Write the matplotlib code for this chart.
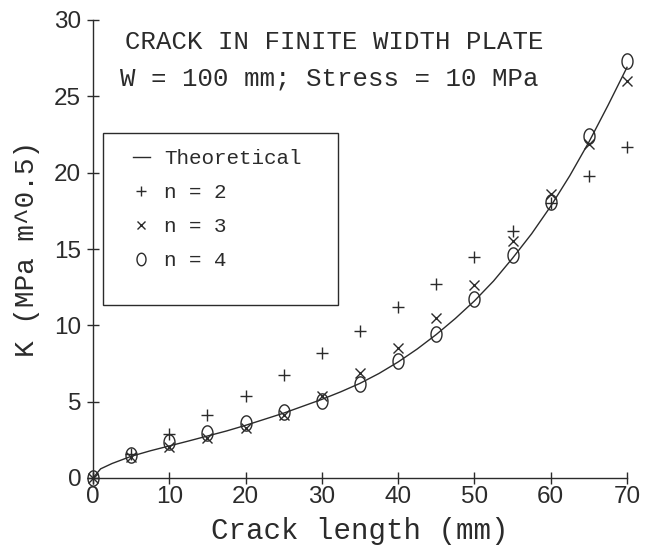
import matplotlib
matplotlib.use("Agg")
import matplotlib.pyplot as plt
from matplotlib.lines import Line2D
from matplotlib.patches import Rectangle
from matplotlib.path import Path
import numpy as np

# ---- data ----
crack_theory = [0, 1, 2.5, 5, 7.5, 10, 12.5, 15, 17.5, 20, 22.5, 25, 27.5, 30, 32.5, 35,
                37.5, 40, 42.5, 45, 47.5, 50, 52.5, 55, 57.5, 60, 62.5, 65, 67.5, 70]
k_theory = [0, 0.6, 0.95, 1.42, 1.78, 2.1, 2.42, 2.75, 3.08, 3.45, 3.85, 4.25, 4.7, 5.15,
            5.65, 6.2, 6.85, 7.6, 8.45, 9.4, 10.45, 11.6, 12.9, 14.4, 16.0, 17.8, 19.8,
            22.0, 24.4, 26.9]

crack_pts = [0, 5, 10, 15, 20, 25, 30, 35, 40, 45, 50, 55, 60, 65, 70]
k_n2 = [0, 1.55, 2.9, 4.15, 5.4, 6.75, 8.2, 9.6, 11.2, 12.7, 14.45, 16.2, 18.0, 19.8, 21.7]
k_n3 = [0, 1.35, 2.0, 2.6, 3.3, 4.15, 5.35, 6.85, 8.5, 10.5, 12.65, 15.5, 18.6, 21.9, 26.0]
k_n4 = [0, 1.5, 2.35, 2.95, 3.6, 4.3, 5.05, 6.15, 7.65, 9.45, 11.7, 14.6, 18.05, 22.4, 27.3]

x_ticks = [0, 10, 20, 30, 40, 50, 60, 70]
y_ticks = [0, 5, 10, 15, 20, 25, 30]

title1 = "CRACK IN FINITE WIDTH PLATE"
title2 = "W = 100 mm; Stress = 10 MPa"
xlabel = "Crack length (mm)"
ylabel = "K (MPa m^0.5)"
legend_labels = ["Theoretical", "n = 2", "n = 3", "n = 4"]

# ---- style ----
INK = "#2b2b2b"
MONO = "Liberation Mono"
SANS = "Liberation Sans"

t = np.linspace(0, 2 * np.pi, 40)
ellipse = Path(np.column_stack([0.36 * np.cos(t), 0.5 * np.sin(t)]), closed=True)

fig = plt.figure(figsize=(6.45, 5.54), dpi=100)
ax = fig.add_axes([93 / 645, 1 - 478 / 554, 534 / 645, 458 / 554])

ax.plot(crack_theory, k_theory, color=INK, lw=1.0, clip_on=False)
ax.plot(crack_pts, k_n2, ls="none", marker="+", ms=9, mew=1.0, color=INK, clip_on=False)
ax.plot(crack_pts, k_n3, ls="none", marker="x", ms=7, mew=1.0, color=INK, clip_on=False)
ax.plot(crack_pts, k_n4, ls="none", marker=ellipse, ms=11, mew=1.0, mfc="none",
        mec=INK, clip_on=False)

ax.set_xlim(0, 70)
ax.set_ylim(0, 30)
ax.set_xticks(x_ticks)
ax.set_yticks(y_ticks)
for s in ["top", "right"]:
    ax.spines[s].set_visible(False)
for s in ["left", "bottom"]:
    ax.spines[s].set_color(INK)
    ax.spines[s].set_linewidth(1.0)
ax.tick_params(direction="inout", length=9, width=1.0, color=INK, labelcolor=INK,
               labelsize=17.5)
ax.tick_params(axis="y", pad=4)
ax.tick_params(axis="x", pad=1)
for lab in ax.get_xticklabels() + ax.get_yticklabels():
    lab.set_family(SANS)

ax.set_xlabel(xlabel, family=MONO, fontsize=21, color=INK, labelpad=7)
ax.set_ylabel(ylabel, family=MONO, fontsize=20, color=INK, labelpad=10)

ax.text((125 - 93) / 534, (478 - 42) / 458, title1, transform=ax.transAxes,
        family=MONO, fontsize=18.5, color=INK, va="center", ha="left")
ax.text((120 - 93) / 534, (478 - 78) / 458, title2, transform=ax.transAxes,
        family=MONO, fontsize=18.5, color=INK, va="center", ha="left")

# legend box
ax.add_patch(Rectangle(((103 - 93) / 534, (478 - 305) / 458), 235 / 534, 172 / 458,
                       transform=ax.transAxes, fill=False, ec=INK, lw=1.0, clip_on=False))
handles = [
    Line2D([], [], color=INK, lw=1.0),
    Line2D([], [], ls="none", marker="+", ms=7, mew=1.0, color=INK),
    Line2D([], [], ls="none", marker="x", ms=6, mew=1.0, color=INK),
    Line2D([], [], ls="none", marker=ellipse, ms=9, mew=1.0, mfc="none", mec=INK),
]
leg = ax.legend(handles, legend_labels, loc="upper left",
                bbox_to_anchor=((133 - 93) / 534, (478 - 149) / 458),
                frameon=False, borderpad=0, borderaxespad=0, handlelength=0.8,
                handletextpad=0.7, labelspacing=0.72,
                prop={"family": MONO, "size": 15})
for txt in leg.get_texts():
    txt.set_color(INK)

fig.savefig("out.png", dpi=100, facecolor="white")
